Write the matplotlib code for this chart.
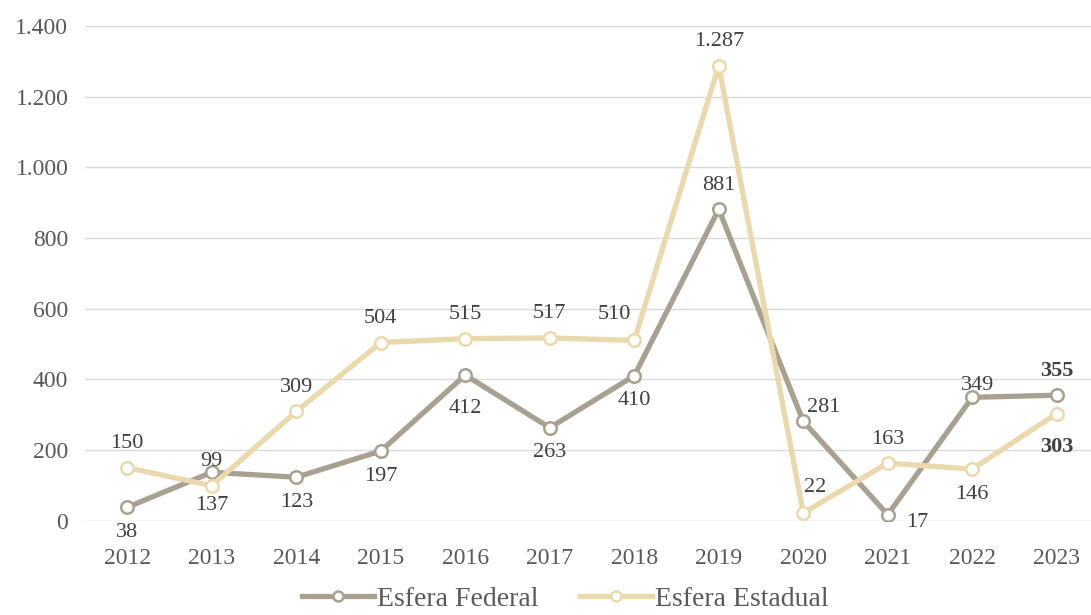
import matplotlib
matplotlib.use("Agg")
import matplotlib.pyplot as plt
from matplotlib.ticker import FuncFormatter

years = ["2012", "2013", "2014", "2015", "2016", "2017", "2018", "2019", "2020", "2021", "2022", "2023"]
federal = [38, 137, 123, 197, 412, 263, 410, 881, 281, 17, 349, 355]
estadual = [150, 99, 309, 504, 515, 517, 510, 1287, 22, 163, 146, 303]

# where each data label sits relative to its point
federal_pos = ["b", "b2", "b", "b", "b2", "b", "b", "a", "ar", "r", "a2", "a"]
estadual_pos = ["a", "a", "a", "a", "a", "a", "al", "a", "a22", "a", "b", "b2"]

offsets = {
    "a": (0, 24), "b": (0, -25), "b2": (0, -33), "r": (29, -8), "ar": (20, 14),
    "al": (-20, 26), "a2": (5, 12), "a22": (12, 25),
}

c_fed = "#a8a090"
c_est = "#ead9ad"
txt = "#404040"

plt.rcParams["font.family"] = ["Liberation Serif", "DejaVu Serif"]

fig = plt.figure(figsize=(10.91, 6.15), dpi=100)
ax = fig.add_axes([85 / 1091, 94.3 / 615, 1014 / 1091, 494.9 / 615])

x = list(range(len(years)))
ax.plot(x, federal, color=c_fed, lw=3.8, marker="o", ms=9, mfc="white",
        mec=c_fed, mew=1.8, label="Esfera Federal", zorder=3)
ax.plot(x, estadual, color=c_est, lw=3.8, marker="o", ms=9, mfc="white",
        mec=c_est, mew=1.8, label="Esfera Estadual", zorder=3)

def fmt(v):
    return f"{int(v):,}".replace(",", ".")

last = len(years) - 1
for series, pos in ((federal, federal_pos), (estadual, estadual_pos)):
    for i, (v, p) in enumerate(zip(series, pos)):
        dx, dy = offsets[p]
        ax.annotate(fmt(v), (i, v), xytext=(dx, dy), textcoords="offset pixels",
                    ha="center", va="center", fontsize=16, color=txt,
                    fontweight="bold" if i == last else "normal", zorder=4)

ax.set_xlim(-0.5, 11.5)
ax.set_ylim(0, 1400)
ax.set_yticks(range(0, 1401, 200))
ax.yaxis.set_major_formatter(FuncFormatter(lambda v, _: fmt(v)))
ax.set_xticks(x)
ax.set_xticklabels(years)
ax.tick_params(axis="both", length=0, labelsize=17, labelcolor="#595959")
ax.tick_params(axis="x", pad=20)
ax.tick_params(axis="y", pad=12)
ax.grid(axis="y", color="#d9d9d9", lw=1)
ax.set_axisbelow(True)
for s in ax.spines.values():
    s.set_visible(False)

fig.legend(loc="lower center", bbox_to_anchor=(565 / 1091, -0.035), ncol=2,
           frameon=False, fontsize=20, labelcolor="#595959", handlelength=2.6,
           columnspacing=1.5, handletextpad=0.1, markerscale=0.8)

fig.savefig("out.png", dpi=100)
